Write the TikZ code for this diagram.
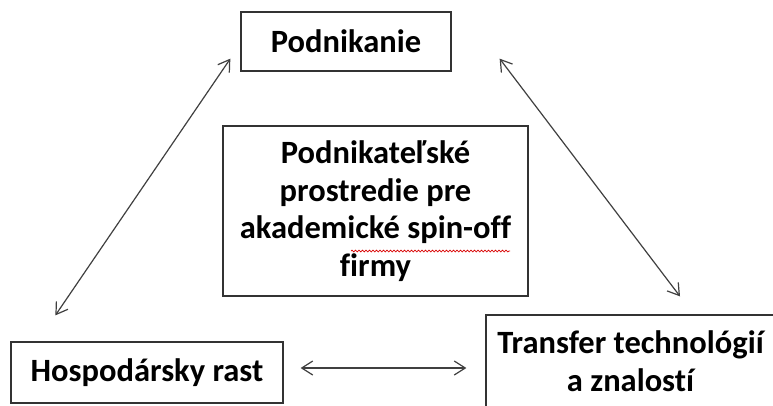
\documentclass[tikz,border=0pt]{standalone}
\usepackage{fontspec}
\setmainfont{Carlito}[Ligatures=CommonOff]
\usetikzlibrary{arrows.meta,calc,decorations.pathmorphing}
\tikzset{
  boxnode/.style={draw=black!80, line width=1.3pt, fill=white, inner sep=0pt, align=center,
    font=\bfseries\fontsize{32.5}{37.5}\selectfont},
  biarrow/.style={draw=black!75, line width=1.2pt,
    {Straight Barb[length=11pt,width=14pt]}-{Straight Barb[length=11pt,width=14pt]}},
  spellmark/.style={draw=red!85!black, line width=0.7pt, decorate,
    decoration={snake, amplitude=0.9pt, segment length=3.5pt}}
}
\begin{document}
\begin{tikzpicture}[x=1pt,y=-1pt]
\useasboundingbox (0,0) rectangle (773,405);
\clip (0,0) rectangle (773,405);
\fill[white] (0,0) rectangle (773,405);
\node[boxnode, minimum width=210pt, minimum height=59pt] (pod) at (346,41.5) {Podnikanie};
\node[boxnode, minimum width=305pt, minimum height=170pt] (env) at (375.5,211)
  {Podnikateľské\\prostredie pre\\akademické spin-off\\firmy};
\node[boxnode, minimum width=272pt, minimum height=61pt] (hosp) at (147,372.5) {Hospodársky rast};
\node[boxnode, minimum width=289pt, minimum height=92pt] (tr) at (630.5,361)
  {Transfer technológií\\a znalostí};
\draw[biarrow] ([xshift=45pt,yshift=26pt]hosp.north west) -- ([xshift=-10pt,yshift=13pt]pod.south west);
\draw[biarrow] ([xshift=48pt,yshift=13pt]pod.south east) -- ([xshift=49.5pt,yshift=18pt]tr.north);
\draw[biarrow] ([xshift=17pt,yshift=4.5pt]hosp.east) -- ([xshift=-19pt,yshift=4.5pt]hosp.east -| tr.west);
\draw[spellmark] (351,251) -- (510,251);
\end{tikzpicture}
\end{document}
